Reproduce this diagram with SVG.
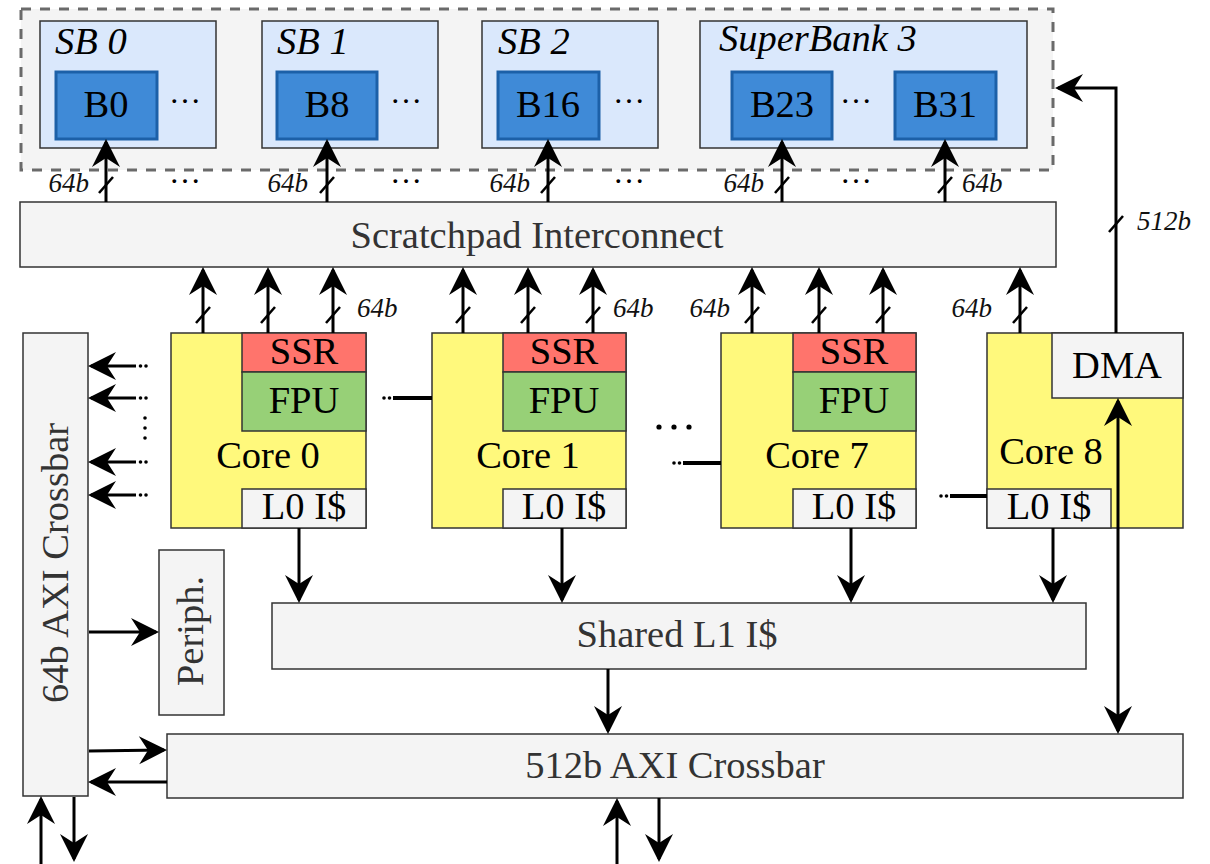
<svg xmlns="http://www.w3.org/2000/svg" width="1210" height="864" viewBox="0 0 1210 864">
<style>
.t{font-family:"Liberation Serif","Times New Roman",serif;font-size:38.5px;fill:#000;text-anchor:middle}
.g{fill:#333}
.it{font-family:"Liberation Serif","Times New Roman",serif;font-style:italic;font-size:38.5px;fill:#000}
.lb{font-family:"Liberation Serif","Times New Roman",serif;font-style:italic;font-size:27px;fill:#111}
.el{font-family:"Liberation Serif","Times New Roman",serif;font-size:32px;fill:#000;text-anchor:middle}
.box{fill:#f4f4f4;stroke:#333;stroke-width:1.5}
.sb{fill:#dae8fc;stroke:#333;stroke-width:1.5}
.bk{fill:#3f8ad7;stroke:#1c60a8;stroke-width:3}
.core{fill:#fff97c;stroke:#333;stroke-width:1.5}
.ssr{fill:#ff746c;stroke:#333;stroke-width:1.5}
.fpu{fill:#97d077;stroke:#333;stroke-width:1.5}
.a{fill:none;stroke:#000;stroke-width:3;marker-end:url(#ah)}
.a2{fill:none;stroke:#000;stroke-width:3;marker-end:url(#ah);marker-start:url(#ah)}
.sl{stroke:#000;stroke-width:2.5}
.cn{stroke:#000;stroke-width:4}
</style>
<defs>
<marker id="ah" markerUnits="userSpaceOnUse" markerWidth="34" markerHeight="34" viewBox="-28 -17 34 34" refX="0" refY="0" orient="auto-start-reverse">
<path d="M3,0 L-25,-14 L-16,0 L-25,14 Z" fill="#000"/>
</marker>
</defs>

<g id="memory">
<rect x="21" y="9" width="1032" height="161" fill="#f4f4f4" stroke="#6a6a6a" stroke-width="3" stroke-dasharray="10,9"/>
</g>
<g id="sb0">
<rect class="sb" x="40" y="21" width="176" height="127"/>
<text class="it" x="55" y="54">SB 0</text>
<rect class="bk" x="56" y="72" width="101" height="67"/>
<text class="t" x="106" y="117">B0</text>
<text class="el" x="185" y="103">…</text>
</g>
<g id="sb1">
<rect class="sb" x="262" y="21" width="176" height="127"/>
<text class="it" x="277" y="54">SB 1</text>
<rect class="bk" x="277" y="72" width="100" height="67"/>
<text class="t" x="327" y="117">B8</text>
<text class="el" x="406" y="103">…</text>
</g>
<g id="sb2">
<rect class="sb" x="482" y="21" width="176" height="127"/>
<text class="it" x="498" y="54">SB 2</text>
<rect class="bk" x="498" y="72" width="101" height="67"/>
<text class="t" x="548" y="117">B16</text>
<text class="el" x="629" y="103">…</text>
</g>
<g id="sb3">
<rect class="sb" x="700" y="21" width="327" height="127"/>
<text class="it" x="719" y="51">SuperBank 3</text>
<rect class="bk" x="732" y="72" width="100" height="67"/>
<text class="t" x="782" y="117">B23</text>
<text class="el" x="856" y="103">…</text>
<rect class="bk" x="895" y="72" width="101" height="67"/>
<text class="t" x="945" y="117">B31</text>
</g>

<g id="interconnect">
<rect class="box" x="20" y="202" width="1036" height="65"/>
<text class="t g" x="537" y="248">Scratchpad Interconnect</text>
</g>

<g id="core0">
<rect class="core" x="171" y="333" width="195" height="195"/>
<rect class="ssr" x="242" y="333" width="124" height="39"/>
<rect class="fpu" x="242" y="372" width="124" height="59"/>
<rect class="box" x="242" y="489" width="124" height="39"/>
<text class="t" x="304" y="364">SSR</text>
<text class="t" x="304" y="413">FPU</text>
<text class="t" x="268" y="468">Core 0</text>
<text class="t" x="304" y="519">L0 I$</text>
</g>
<g id="core1">
<rect class="core" x="432" y="333" width="194" height="195"/>
<rect class="ssr" x="503" y="333" width="123" height="39"/>
<rect class="fpu" x="503" y="372" width="123" height="59"/>
<rect class="box" x="503" y="489" width="123" height="39"/>
<text class="t" x="564" y="364">SSR</text>
<text class="t" x="564" y="413">FPU</text>
<text class="t" x="528" y="468">Core 1</text>
<text class="t" x="564" y="519">L0 I$</text>
</g>
<g id="core7">
<rect class="core" x="721" y="333" width="195" height="195"/>
<rect class="ssr" x="793" y="333" width="123" height="39"/>
<rect class="fpu" x="793" y="372" width="123" height="59"/>
<rect class="box" x="793" y="489" width="123" height="39"/>
<text class="t" x="854" y="364">SSR</text>
<text class="t" x="854" y="413">FPU</text>
<text class="t" x="817" y="468">Core 7</text>
<text class="t" x="854" y="519">L0 I$</text>
</g>
<g id="core8">
<rect class="core" x="987" y="333" width="196" height="195"/>
<rect class="box" x="1052" y="333" width="131" height="65"/>
<rect class="box" x="987" y="489" width="124" height="39"/>
<text class="t" x="1117" y="378">DMA</text>
<text class="t" x="1051" y="464">Core 8</text>
<text class="t" x="1049" y="519">L0 I$</text>
</g>

<g id="xbar64">
<rect class="box" x="23" y="333" width="65" height="463"/>
<text class="t g" transform="translate(68,563) rotate(-90)">64b AXI Crossbar</text>
</g>
<g id="periph">
<rect class="box" x="159" y="550" width="65" height="165"/>
<text class="t g" transform="translate(203,631) rotate(-90)">Periph.</text>
</g>
<g id="l1">
<rect class="box" x="272" y="603" width="814" height="66"/>
<text class="t g" x="677" y="647">Shared L1 I$</text>
</g>
<g id="xbar512">
<rect class="box" x="167" y="734" width="1016" height="64"/>
<text class="t g" x="675" y="778">512b AXI Crossbar</text>
</g>

<g id="connectors">
<line class="a" x1="106" y1="202" x2="106" y2="142"/>
<line class="a" x1="327" y1="202" x2="327" y2="142"/>
<line class="a" x1="548" y1="202" x2="548" y2="142"/>
<line class="a" x1="782" y1="202" x2="782" y2="142"/>
<line class="a" x1="945" y1="202" x2="945" y2="142"/>
<line class="sl" x1="99" y1="193" x2="113" y2="177"/>
<line class="sl" x1="320" y1="193" x2="334" y2="177"/>
<line class="sl" x1="541" y1="193" x2="555" y2="177"/>
<line class="sl" x1="775" y1="193" x2="789" y2="177"/>
<line class="sl" x1="938" y1="193" x2="952" y2="177"/>
<text class="lb" x="89" y="192" text-anchor="end">64b</text>
<text class="lb" x="308" y="192" text-anchor="end">64b</text>
<text class="lb" x="530" y="192" text-anchor="end">64b</text>
<text class="lb" x="764" y="192" text-anchor="end">64b</text>
<text class="lb" x="962" y="192">64b</text>
<text class="el" x="185" y="183">…</text>
<text class="el" x="406" y="183">…</text>
<text class="el" x="629" y="183">…</text>
<text class="el" x="856" y="183">…</text>

<line class="a" x1="203" y1="333" x2="203" y2="270"/>
<line class="a" x1="268" y1="333" x2="268" y2="270"/>
<line class="a" x1="333" y1="333" x2="333" y2="270"/>
<line class="a" x1="463" y1="333" x2="463" y2="270"/>
<line class="a" x1="528" y1="333" x2="528" y2="270"/>
<line class="a" x1="593" y1="333" x2="593" y2="270"/>
<line class="a" x1="752" y1="333" x2="752" y2="270"/>
<line class="a" x1="819" y1="333" x2="819" y2="270"/>
<line class="a" x1="883" y1="333" x2="883" y2="270"/>
<line class="a" x1="1020" y1="333" x2="1020" y2="270"/>
<line class="sl" x1="196" y1="323" x2="210" y2="307"/>
<line class="sl" x1="261" y1="323" x2="275" y2="307"/>
<line class="sl" x1="326" y1="323" x2="340" y2="307"/>
<line class="sl" x1="456" y1="323" x2="470" y2="307"/>
<line class="sl" x1="521" y1="323" x2="535" y2="307"/>
<line class="sl" x1="586" y1="323" x2="600" y2="307"/>
<line class="sl" x1="745" y1="323" x2="759" y2="307"/>
<line class="sl" x1="812" y1="323" x2="826" y2="307"/>
<line class="sl" x1="876" y1="323" x2="890" y2="307"/>
<line class="sl" x1="1013" y1="323" x2="1027" y2="307"/>
<text class="lb" x="357" y="317">64b</text>
<text class="lb" x="613" y="317">64b</text>
<text class="lb" x="730" y="317" text-anchor="end">64b</text>
<text class="lb" x="992" y="317" text-anchor="end">64b</text>

<path class="a" d="M1116,333 L1116,88 L1058,88"/>
<line class="sl" x1="1109" y1="232" x2="1123" y2="216"/>
<text class="lb" x="1137" y="230">512b</text>
<line class="a2" x1="1118" y1="401" x2="1118" y2="731"/>

<line class="cn" x1="393" y1="398" x2="432" y2="398"/>
<circle cx="384" cy="398" r="1.8"/><circle cx="389.5" cy="398" r="1.8"/>
<line class="cn" x1="683" y1="463" x2="721" y2="463"/>
<circle cx="674" cy="463" r="1.8"/><circle cx="679.5" cy="463" r="1.8"/>
<line class="cn" x1="950" y1="496" x2="987" y2="496"/>
<circle cx="941" cy="496" r="1.8"/><circle cx="946.5" cy="496" r="1.8"/>
<circle cx="659" cy="427" r="2.6"/><circle cx="674" cy="427" r="2.6"/><circle cx="689" cy="427" r="2.6"/>

<line class="a" x1="136" y1="366" x2="91" y2="366"/>
<line class="a" x1="136" y1="398" x2="91" y2="398"/>
<line class="a" x1="136" y1="462" x2="91" y2="462"/>
<line class="a" x1="136" y1="495" x2="91" y2="495"/>
<circle cx="140.5" cy="366" r="1.8"/><circle cx="146" cy="366" r="1.8"/>
<circle cx="140.5" cy="398" r="1.8"/><circle cx="146" cy="398" r="1.8"/>
<circle cx="140.5" cy="462" r="1.8"/><circle cx="146" cy="462" r="1.8"/>
<circle cx="140.5" cy="495" r="1.8"/><circle cx="146" cy="495" r="1.8"/>
<circle cx="145" cy="418" r="1.8"/><circle cx="145" cy="428" r="1.8"/><circle cx="145" cy="438" r="1.8"/>

<line class="a" x1="299" y1="528" x2="299" y2="600"/>
<line class="a" x1="562" y1="528" x2="562" y2="600"/>
<line class="a" x1="851" y1="528" x2="851" y2="600"/>
<line class="a" x1="1053" y1="528" x2="1053" y2="600"/>
<line class="a" x1="608" y1="669" x2="608" y2="731"/>
<line class="a" x1="89" y1="632" x2="156" y2="632"/>
<line class="a" x1="89" y1="751" x2="164" y2="750"/>
<line class="a" x1="167" y1="782" x2="91" y2="782"/>
<line class="a" x1="41" y1="864" x2="41" y2="799"/>
<line class="a" x1="74" y1="797" x2="74" y2="859"/>
<line class="a" x1="617" y1="864" x2="617" y2="801"/>
<line class="a" x1="659" y1="798" x2="659" y2="859"/>
</g>
</svg>
